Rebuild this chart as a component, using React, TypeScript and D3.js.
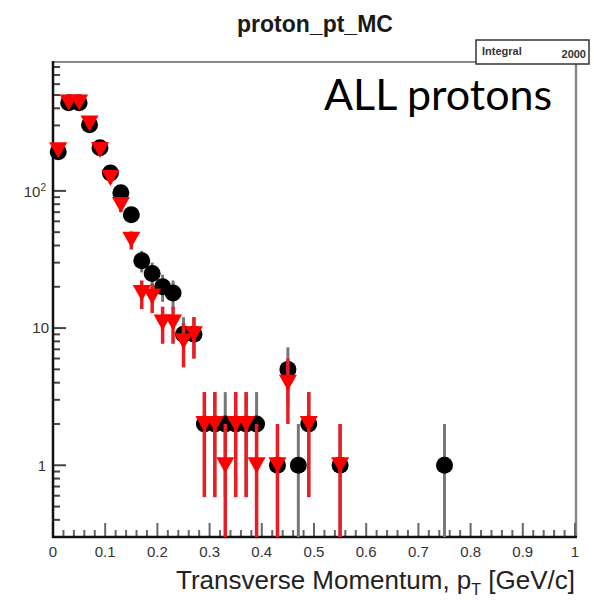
import React from "react";
import * as d3 from "d3";

const blackX = [0.01, 0.03, 0.05, 0.07, 0.09, 0.11, 0.13, 0.15, 0.17, 0.19, 0.21, 0.23, 0.25, 0.27, 0.29, 0.31, 0.33, 0.35, 0.37, 0.39, 0.43, 0.45, 0.47, 0.49, 0.55, 0.75];
const blackN = [193, 439, 439, 303, 206, 135, 97, 67, 31, 25, 20, 18, 9, 9, 2, 2, 2, 2, 2, 2, 1, 5, 1, 2, 1, 1];
const redX = [0.01, 0.03, 0.05, 0.07, 0.09, 0.11, 0.13, 0.15, 0.17, 0.19, 0.21, 0.23, 0.25, 0.27, 0.29, 0.31, 0.33, 0.35, 0.37, 0.39, 0.43, 0.45, 0.49, 0.55];
const redN = [198, 440, 440, 310, 199, 124, 79, 44, 18, 17, 11, 11, 8, 9, 2, 2, 1, 2, 2, 1, 1, 4, 2, 1];

const xTickLabels = ["0", "0.1", "0.2", "0.3", "0.4", "0.5", "0.6", "0.7", "0.8", "0.9", "1"];
const titleText = "proton_pt_MC";
const xTitle = "Transverse Momentum, p";
const statsLabel = "Integral";
const statsValue = "2000";
const annotation = "ALL protons";

const W = 594, H = 600;
const L = 53, R = 576, T = 62, B = 537;

export default function App() {
  const x = d3.scaleLinear().domain([0, 1]).range([L, 575]);
  const y = d3.scaleLog().domain([0.3, 870]).range([B, T]);
  const yc = (v: number) => Math.min(B, Math.max(T, y(Math.max(v, 0.3))));

  const xMinor = d3.range(0, 51).map((i) => i * 0.02);
  const yMinor: number[] = [];
  for (let k = -1; k <= 2; k++) for (let m = 1; m <= 9; m++) {
    const v = m * Math.pow(10, k);
    if (v >= 0.3 && v <= 870) yMinor.push(v);
  }
  const yMajor = [1, 10, 100];
  const font = "'Liberation Sans', Arial, Helvetica, sans-serif";

  const tri = (cx: number, cy: number) => {
    const w = 9, h = 8;
    return `M${cx - w},${cy - h}L${cx + w},${cy - h}L${cx},${cy + h}Z`;
  };

  return (
    <svg width={W} height={H} style={{ position: "absolute", left: 0, top: 0 }}>
      <rect width={W} height={H} fill="#fff" />
      <text x={315} y={32} textAnchor="middle" fontFamily={font} fontSize={23} fontWeight="bold" fill="#1a1a1a">{titleText}</text>

      {/* frame top/right */}
      <line x1={L} x2={R} y1={T} y2={T} stroke="#888" strokeWidth={2} />
      <line x1={R} x2={R} y1={T} y2={B} stroke="#888" strokeWidth={2.5} />

      {/* x ticks */}
      {xMinor.map((v, i) => (
        <line key={"xt" + i} x1={x(v)} x2={x(v)} y1={B} y2={B - (i % 5 === 0 ? 14 : 7)} stroke="#666" strokeWidth={2} />
      ))}
      {/* y ticks */}
      {yMinor.map((v, i) => (
        <line key={"yt" + i} x1={L} x2={L + (yMajor.includes(v) ? 13 : 7)} y1={y(v)} y2={y(v)} stroke="#444" strokeWidth={2} />
      ))}

      {/* axes */}
      <line x1={L} x2={L} y1={T - 1} y2={B + 1} stroke="#111" strokeWidth={2.5} />
      <line x1={L - 1} x2={R + 1} y1={B} y2={B} stroke="#111" strokeWidth={2.5} />

      {/* error bars black series */}
      {blackX.map((v, i) => {
        const n = blackN[i], e = Math.sqrt(n);
        return <line key={"be" + i} x1={x(v)} x2={x(v)} y1={yc(n + e)} y2={yc(n - e)} stroke="#777" strokeWidth={3} />;
      })}
      {blackX.map((v, i) => (
        <circle key={"bc" + i} cx={x(v)} cy={y(blackN[i])} r={8.5} fill="#000" />
      ))}
      {/* red series */}
      {redX.map((v, i) => {
        const n = redN[i], e = Math.sqrt(n);
        return <line key={"re" + i} x1={x(v)} x2={x(v)} y1={yc(n + e)} y2={yc(n - e)} stroke="#ec1c24" strokeWidth={3.5} />;
      })}
      {redX.map((v, i) => (
        <path key={"rt" + i} d={tri(x(v), y(redN[i]))} fill="#ff0000" />
      ))}

      {/* x tick labels */}
      {xTickLabels.map((s, i) => (
        <text key={"xl" + i} x={x(i / 10)} y={557} textAnchor="middle" fontFamily={font} fontSize={15} fill="#333">{s}</text>
      ))}
      {/* y tick labels */}
      <text x={46} y={197} textAnchor="end" fontFamily={font} fontSize={15} fill="#333">10<tspan dy={-6} fontSize={10}>2</tspan></text>
      <text x={49} y={333} textAnchor="end" fontFamily={font} fontSize={15} fill="#333">10</text>
      <text x={46} y={471} textAnchor="end" fontFamily={font} fontSize={15} fill="#333">1</text>

      {/* x title */}
      <text x={575} y={589} textAnchor="end" fontFamily={font} fontSize={26} fill="#222">
        {xTitle}<tspan dy={6} fontSize={16}>T</tspan><tspan dy={-6}> [GeV/c]</tspan>
      </text>

      {/* stats box */}
      <rect x={476} y={40} width={113} height={24} fill="#fff" stroke="#333" strokeWidth={1.5} />
      <text x={482} y={55} fontFamily={font} fontSize={11} fontWeight="bold" fill="#333">{statsLabel}</text>
      <text x={586} y={58} textAnchor="end" fontFamily={font} fontSize={11} fontWeight="bold" fill="#333">{statsValue}</text>

      <text x={324} y={110} fontFamily="Lato, 'Open Sans', sans-serif" fontSize={43} fill="#000">{annotation}</text>
    </svg>
  );
}
